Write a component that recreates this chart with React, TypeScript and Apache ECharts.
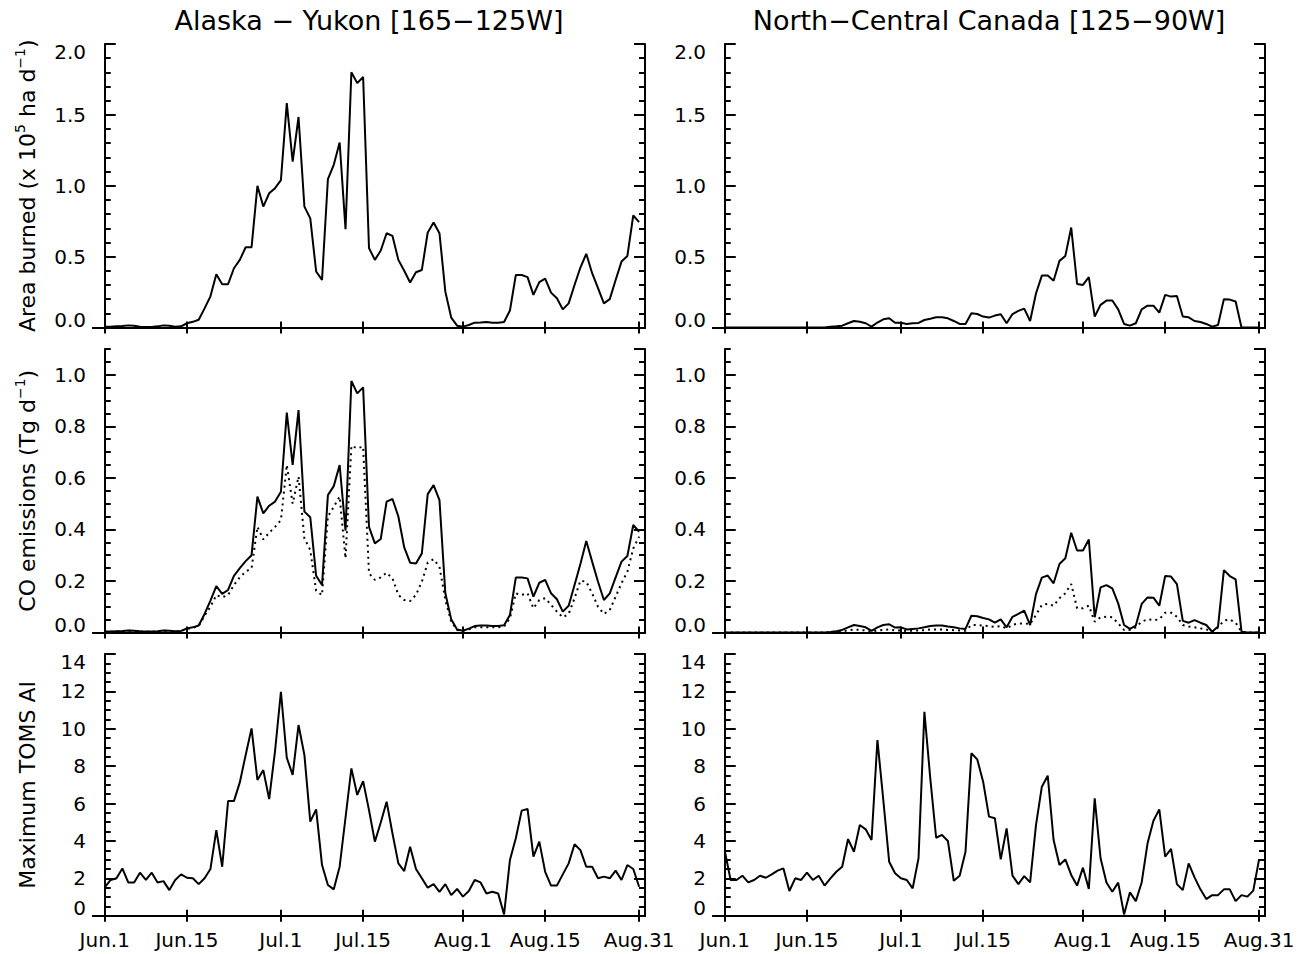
import React, { useEffect, useRef } from 'react';
import * as echarts from 'echarts';

// ---------- data ----------
const tickDays = [0, 14, 30, 44, 61, 75, 91];
const tickLabels = ['Jun.1', 'Jun.15', 'Jul.1', 'Jul.15', 'Aug.1', 'Aug.15', 'Aug.31'];
const panelTitles = ['Alaska − Yukon [165−125W]', 'North−Central Canada [125−90W]'];

// Area burned (x 10^5 ha/day), Jun.1 .. Aug.31
const areaAK = [
  0.005, 0.005, 0.008, 0.01, 0.015, 0.012, 0.006, 0.004, 0.004, 0.008,
  0.015, 0.012, 0.006, 0.008, 0.03, 0.04, 0.055, 0.135, 0.22, 0.375,
  0.305, 0.305, 0.418, 0.477, 0.566, 0.566, 1.0, 0.853, 0.947, 0.983,
  1.04, 1.583, 1.17, 1.485, 0.853, 0.77, 0.395, 0.336, 1.046, 1.148,
  1.305, 0.693, 1.8, 1.724, 1.767, 0.56, 0.477, 0.543, 0.665, 0.646,
  0.477, 0.4, 0.317, 0.39, 0.406, 0.67, 0.74, 0.665, 0.253, 0.07,
  0.013, 0.006, 0.018, 0.034, 0.036, 0.039, 0.034, 0.034, 0.039, 0.12,
  0.37, 0.37, 0.355, 0.23, 0.32, 0.345, 0.246, 0.206, 0.128, 0.17,
  0.3, 0.423, 0.52, 0.383, 0.277, 0.17, 0.2, 0.335, 0.465, 0.505,
  0.79, 0.743,
];
const areaNC = [
  0, 0, 0, 0, 0, 0, 0, 0, 0, 0,
  0, 0, 0, 0, 0, 0, 0, 0, 0.005, 0.008,
  0.013, 0.03, 0.046, 0.04, 0.03, 0.006, 0.035, 0.058, 0.065, 0.034,
  0.034, 0.025, 0.03, 0.032, 0.053, 0.062, 0.072, 0.072, 0.065, 0.046,
  0.025, 0.025, 0.1, 0.095, 0.077, 0.07, 0.084, 0.093, 0.03, 0.095,
  0.117, 0.133, 0.046, 0.24, 0.366, 0.366, 0.33, 0.47, 0.505, 0.705,
  0.307, 0.3, 0.355, 0.077, 0.16, 0.19, 0.19, 0.128, 0.025, 0.013,
  0.03, 0.128, 0.154, 0.154, 0.105, 0.23, 0.218, 0.222, 0.077, 0.072,
  0.046, 0.039, 0.025, 0.006, 0.018, 0.2, 0.197, 0.183, 0, 0,
  0, 0,
];
// CO emissions (Tg/day): solid and dotted
const coAK = [
  0.004, 0.004, 0.005, 0.006, 0.008, 0.007, 0.005, 0.004, 0.004, 0.005,
  0.008, 0.007, 0.005, 0.006, 0.016, 0.02, 0.027, 0.072, 0.124, 0.18,
  0.15, 0.165, 0.22, 0.25, 0.277, 0.3, 0.527, 0.462, 0.492, 0.508,
  0.546, 0.853, 0.65, 0.863, 0.469, 0.447, 0.22, 0.184, 0.533, 0.568,
  0.65, 0.395, 0.976, 0.928, 0.951, 0.41, 0.346, 0.363, 0.508, 0.518,
  0.45, 0.33, 0.271, 0.268, 0.307, 0.537, 0.572, 0.514, 0.152, 0.051,
  0.012, 0.007, 0.015, 0.025, 0.027, 0.027, 0.025, 0.025, 0.028, 0.068,
  0.213, 0.213, 0.21, 0.139, 0.193, 0.204, 0.152, 0.129, 0.081, 0.104,
  0.184, 0.266, 0.355, 0.275, 0.197, 0.126, 0.152, 0.214, 0.275, 0.297,
  0.417, 0.391,
];
const coAKdot = [
  0.003, 0.003, 0.004, 0.005, 0.007, 0.006, 0.004, 0.003, 0.003, 0.004,
  0.007, 0.006, 0.004, 0.005, 0.014, 0.018, 0.025, 0.065, 0.1, 0.145,
  0.137, 0.145, 0.184, 0.214, 0.236, 0.249, 0.41, 0.361, 0.387, 0.41,
  0.436, 0.65, 0.5, 0.605, 0.365, 0.32, 0.162, 0.145, 0.45, 0.488,
  0.527, 0.288, 0.724, 0.715, 0.721, 0.23, 0.204, 0.214, 0.232, 0.21,
  0.146, 0.126, 0.122, 0.146, 0.197, 0.271, 0.284, 0.255, 0.126, 0.042,
  0.01, 0.007, 0.012, 0.02, 0.02, 0.02, 0.02, 0.02, 0.023, 0.055,
  0.152, 0.146, 0.152, 0.094, 0.126, 0.133, 0.107, 0.081, 0.059, 0.072,
  0.133, 0.201, 0.197, 0.152, 0.1, 0.072, 0.087, 0.139, 0.191, 0.236,
  0.326, 0.372,
];
const coNC = [
  0, 0, 0, 0, 0, 0, 0, 0, 0, 0,
  0, 0, 0, 0, 0, 0, 0, 0, 0.002, 0.005,
  0.01, 0.02, 0.029, 0.025, 0.02, 0.006, 0.02, 0.029, 0.032, 0.019,
  0.02, 0.012, 0.014, 0.016, 0.02, 0.025, 0.027, 0.027, 0.023, 0.02,
  0.016, 0.014, 0.065, 0.063, 0.056, 0.051, 0.038, 0.051, 0.02, 0.061,
  0.072, 0.085, 0.029, 0.149, 0.213, 0.221, 0.191, 0.266, 0.288, 0.387,
  0.318, 0.318, 0.361, 0.059, 0.175, 0.184, 0.171, 0.113, 0.029, 0.014,
  0.027, 0.111, 0.136, 0.135, 0.104, 0.219, 0.217, 0.188, 0.045, 0.038,
  0.048, 0.038, 0.029, 0.003, 0.023, 0.242, 0.219, 0.206, 0.003, 0,
  0, 0,
];
const coNCdot = [
  0, 0, 0, 0, 0, 0, 0, 0, 0, 0,
  0, 0, 0, 0, 0, 0, 0, 0, 0.001, 0.003,
  0.005, 0.008, 0.012, 0.01, 0.008, 0.003, 0.008, 0.01, 0.012, 0.008,
  0.008, 0.006, 0.007, 0.008, 0.009, 0.012, 0.012, 0.012, 0.01, 0.009,
  0.008, 0.007, 0.029, 0.029, 0.027, 0.025, 0.022, 0.025, 0.016, 0.03,
  0.035, 0.035, 0.033, 0.068, 0.107, 0.111, 0.104, 0.133, 0.152, 0.188,
  0.094, 0.094, 0.104, 0.042, 0.059, 0.061, 0.059, 0.035, 0.01, 0.01,
  0.02, 0.042, 0.051, 0.048, 0.051, 0.077, 0.077, 0.061, 0.029, 0.023,
  0.02, 0.016, 0.012, 0.003, 0.02, 0.046, 0.051, 0.038, 0.003, 0,
  0, 0,
];
// Maximum TOMS aerosol index
const aiAK = [
  1.52, 1.91, 2.0, 2.53, 1.78, 1.78, 2.3, 1.91, 2.3, 1.78,
  1.85, 1.37, 1.91, 2.21, 2.03, 2.0, 1.69, 2.0, 2.5, 4.58,
  2.62, 6.13, 6.13, 7.13, 8.6, 10.02, 7.26, 7.79, 6.24, 8.81,
  11.98, 8.45, 7.53, 10.2, 8.6, 5.03, 5.69, 2.71, 1.64, 1.41,
  2.62, 5.24, 7.88, 6.46, 7.2, 5.65, 3.96, 4.99, 6.1, 4.4,
  2.8, 2.39, 3.69, 2.5, 2.0, 1.5, 1.69, 1.28, 1.69, 1.1,
  1.43, 1.02, 1.32, 1.91, 1.78, 1.19, 1.28, 1.19, 0.07, 2.98,
  4.14, 5.62, 5.71, 3.16, 3.96, 2.35, 1.61, 1.61, 2.21, 2.8,
  3.82, 3.51, 2.62, 2.62, 2.0, 2.09, 2.0, 2.41, 1.91, 2.71,
  2.5, 1.55,
];
const aiNC = [
  3.48, 1.91, 1.91, 2.14, 1.78, 1.91, 2.14, 2.03, 2.21, 2.41,
  2.53, 1.32, 2.0, 1.91, 2.3, 1.91, 2.14, 1.61, 2.0, 2.35,
  2.62, 4.1, 3.42, 4.85, 4.62, 4.05, 9.4, 6.19, 2.89, 2.27,
  2.0, 1.91, 1.46, 3.07, 10.91, 7.35, 4.17, 4.32, 4.0, 1.87,
  2.14, 3.42, 8.69, 8.36, 7.17, 5.3, 5.21, 3.01, 4.67, 2.14,
  1.69, 2.12, 1.78, 4.85, 6.9, 7.49, 4.05, 2.71, 3.01, 2.18,
  1.61, 2.57, 1.43, 6.28, 3.07, 1.78, 1.28, 1.77, 0.07, 1.25,
  0.78, 1.78, 3.87, 5.08, 5.69, 3.16, 3.57, 1.69, 1.37, 2.8,
  2.05, 1.41, 0.89, 1.1, 1.1, 1.41, 1.41, 0.78, 1.1, 1.02,
  1.34, 3.03,
];

const yNames = ['Area burned (x 10{sup|5} ha d{sup|−1})', 'CO emissions (Tg d{sup|−1})', 'Maximum TOMS AI'];

// ---------- layout / style ----------
const FONT = 'DejaVu Sans';
const BLACK = '#000';
const COL_LEFT = [93, 713];
const GRID_W = 552;
const ROW_TOP = [44, 349, 654];
const ROW_H = [283.5, 283.5, 261.7];

const ROW_AXES = [
  { min: 0, max: 2, major: 0.5, minor: 0.1, digits: 1, shiftMax: true, hideMax: false },
  { min: 0, max: 1.1, major: 0.2, minor: 0.05, digits: 1, shiftMax: false, hideMax: true },
  { min: 0, max: 14, major: 2, minor: 0.5, digits: 0, shiftMax: true, hideMax: false },
];

const toPairs = (arr: number[]) => arr.map((v, i) => [i, v]);

function buildOption() {
  const grid: any[] = [];
  const xAxis: any[] = [];
  const yAxis: any[] = [];
  const series: any[] = [];
  const lineAxis = { show: true, lineStyle: { color: BLACK, width: 2 } };

  const panels = [
    [[areaAK], [areaNC]],
    [[coAK, coAKdot], [coNC, coNCdot]],
    [[aiAK], [aiNC]],
  ];

  for (let r = 0; r < 3; r++) {
    const ax = ROW_AXES[r];
    for (let c = 0; c < 2; c++) {
      const g = r * 2 + c;
      grid.push({
        left: COL_LEFT[c], top: ROW_TOP[r], width: GRID_W, height: ROW_H[r],
        containLabel: false, outerBoundsMode: 'none', show: false,
      });
      const isBottom = r === 2;
      xAxis.push({
        type: 'value', gridIndex: g, position: 'bottom', min: -2, max: 92,
        axisLine: lineAxis,
        axisTick: { show: true, inside: true, length: 6, lineStyle: { color: BLACK, width: 2 }, customValues: tickDays },
        axisLabel: {
          show: isBottom, customValues: tickDays, margin: 14,
          fontFamily: FONT, fontSize: 20, color: BLACK,
          formatter: (v: number) => tickLabels[tickDays.indexOf(Math.round(v))] ?? '',
        },
        splitLine: { show: false },
      });
      xAxis.push({
        type: 'value', gridIndex: g, position: 'top', min: -2, max: 92,
        axisLine: lineAxis,
        axisTick: { show: true, inside: true, length: 6, lineStyle: { color: BLACK, width: 2 }, customValues: tickDays },
        axisLabel: { show: false },
        splitLine: { show: false },
      });
      const fmt = (v: number) => v.toFixed(ax.digits);
      const labelCfg = {
        show: true, margin: 7, fontFamily: FONT, fontSize: 20, color: BLACK,
        showMaxLabel: !ax.hideMax,
        formatter: (v: number) => {
          if (Math.abs(v - ax.min) < 1e-9) return `{lo|${fmt(v)}}`;
          if (ax.shiftMax && Math.abs(v - ax.max) < 1e-9) return `{hi|${fmt(v)}}`;
          return fmt(v);
        },
        rich: {
          lo: { fontFamily: FONT, fontSize: 20, color: BLACK, padding: [0, 0, 16, 0] },
          hi: { fontFamily: FONT, fontSize: 20, color: BLACK, padding: [16, 0, 0, 0] },
        },
      };
      for (const pos of ['left', 'right']) {
        yAxis.push({
          type: 'value', gridIndex: g, position: pos, min: ax.min, max: ax.max, interval: ax.major,
          axisLine: lineAxis,
          axisTick: { show: true, inside: true, length: 11, lineStyle: { color: BLACK, width: 2 } },
          axisLabel: pos === 'left' ? labelCfg : { show: false },
          splitLine: { show: false },
          ...(pos === 'left' && c === 0
            ? {
                name: yNames[r], nameLocation: 'middle', nameGap: 52, nameRotate: 90,
                nameTextStyle: {
                  fontFamily: FONT, fontSize: 22, color: BLACK, lineHeight: 28,
                  rich: { sup: { fontFamily: FONT, fontSize: 14, color: BLACK, verticalAlign: 'top', lineHeight: 14 } },
                },
              }
            : {}),
        });
        yAxis.push({
          type: 'value', gridIndex: g, position: pos, min: ax.min, max: ax.max, interval: ax.minor,
          axisLine: { show: false },
          axisTick: { show: true, inside: true, length: 6, lineStyle: { color: BLACK, width: 2 } },
          axisLabel: { show: false },
          splitLine: { show: false },
        });
      }
      const arrs = panels[r][c];
      arrs.forEach((arr, k) => {
        series.push({
          type: 'line', xAxisIndex: g * 2, yAxisIndex: g * 4,
          data: toPairs(arr), showSymbol: false, symbol: 'none',
          lineStyle: { color: BLACK, width: 2, type: k === 0 ? 'solid' : [2, 4] },
          z: 3,
        });
      });
    }
  }

  const graphic = panelTitles.map((t, c) => ({
    type: 'text', x: COL_LEFT[c] + GRID_W / 2, y: 20,
    style: {
      text: t, fontFamily: FONT, fontSize: 27, fill: BLACK,
      align: 'center', verticalAlign: 'middle', textAlign: 'center', textVerticalAlign: 'middle',
    },
  }));

  return { animation: false, backgroundColor: '#fff', grid, xAxis, yAxis, series, graphic };
}

export default function App() {
  const ref = useRef<HTMLDivElement>(null);
  useEffect(() => {
    const chart = echarts.init(ref.current!, null, { renderer: 'svg' });
    chart.setOption(buildOption() as any);
    return () => chart.dispose();
  }, []);
  return <div ref={ref} style={{ position: 'fixed', left: 0, top: 0, width: 1302, height: 954 }} />;
}
